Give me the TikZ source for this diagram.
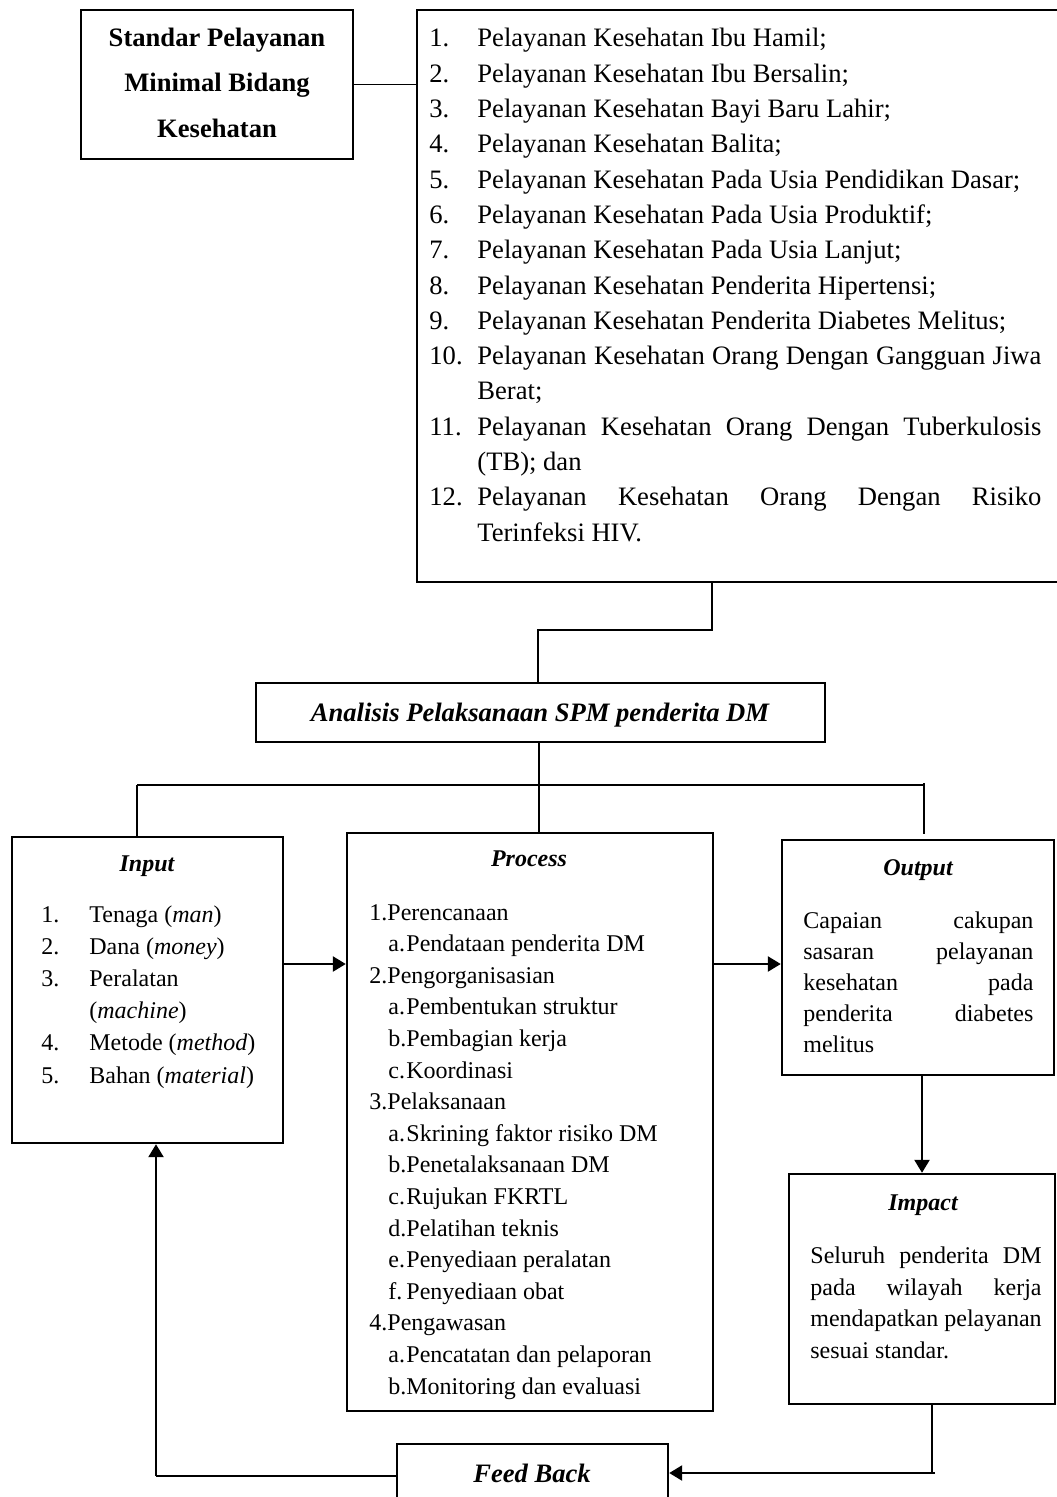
\documentclass[tikz,border=0pt]{standalone}
\usepackage{fontspec}
\setmainfont{Liberation Serif}
\usetikzlibrary{arrows.meta,fit}
\begin{document}
\begin{tikzpicture}[x=0.5pt,y=-0.5pt,
  box/.style={draw,line width=1.2pt,inner sep=0pt},
  thin/.style={line width=0.6pt},
  arr/.style={line width=1.2pt,-{Triangle[length=6.5pt,width=7.5pt]}},
  tx/.style={anchor=base west,inner sep=0pt,font=\fontsize{13.3}{16}\selectfont},
  sx/.style={anchor=base west,inner sep=0pt,font=\fontsize{12}{14}\selectfont},
  tt/.style={anchor=base,inner sep=0pt,font=\fontsize{13.3}{16}\selectfont\bfseries},
  st/.style={anchor=base,inner sep=0pt,font=\fontsize{12}{14}\selectfont\bfseries\itshape}]
\useasboundingbox[fill=white] (0,0) rectangle (1056,1497);

% ---------- boxes ----------
\node[box,fit={(81,10) (353,159)}] (spm) {};
\node[box,fit={(417,10) (1062,582)}] (list) {};
\node[box,fit={(256,683) (825,742)}] (ana) {};
\node[box,fit={(12,837) (283,1143)}] (inp) {};
\node[box,fit={(347,833) (713,1411)}] (proc) {};
\node[box,fit={(782,840) (1054,1075)}] (outp) {};
\node[box,fit={(789,1174) (1055,1404)}] (imp) {};
\node[box,fit={(397,1444) (668,1515)}] (fb) {};

% ---------- SPM text ----------
\node[tt] (spm1) at (217,47) {Standar Pelayanan};
\node[tt] (spm2) at (217,92) {Minimal Bidang};
\node[tt] (spm3) at (217,138) {Kesehatan};

% ---------- list ----------
\foreach \n/\t [count=\i from 0] in {
  1./{Pelayanan Kesehatan Ibu Hamil;},
  2./{Pelayanan Kesehatan Ibu Bersalin;},
  3./{Pelayanan Kesehatan Bayi Baru Lahir;},
  4./{Pelayanan Kesehatan Balita;},
  5./{Pelayanan Kesehatan Pada Usia Pendidikan Dasar;},
  6./{Pelayanan Kesehatan Pada Usia Produktif;},
  7./{Pelayanan Kesehatan Pada Usia Lanjut;},
  8./{Pelayanan Kesehatan Penderita Hipertensi;},
  9./{Pelayanan Kesehatan Penderita Diabetes Melitus;}}{
  \node[tx] (ln\i) at (429,{47+35.3*\i}) {\n};
  \node[tx] (lt\i) at (477,{47+35.3*\i}) {\t};
}
\node[tx] (ln9) at (429,{47+35.3*9}) {10.};
\node[tx] (lt9) at (477,{47+35.3*9}) {\makebox[282pt][s]{Pelayanan Kesehatan Orang Dengan Gangguan Jiwa}};
\node[tx] (lt10) at (477,{47+35.3*10}) {Berat;};
\node[tx] (ln11) at (429,{47+35.3*11}) {11.};
\node[tx] (lt11) at (477,{47+35.3*11}) {\makebox[282pt][s]{Pelayanan Kesehatan Orang Dengan Tuberkulosis}};
\node[tx] (lt12) at (477,{47+35.3*12}) {(TB); dan};
\node[tx] (ln13) at (429,{47+35.3*13}) {12.};
\node[tx] (lt13) at (477,{47+35.3*13}) {\makebox[282pt][s]{Pelayanan Kesehatan Orang Dengan Risiko}};
\node[tx] (lt14) at (477,{47+35.3*14}) {Terinfeksi HIV.};

% ---------- Analisis ----------
\node[anchor=base,inner sep=0pt,font=\fontsize{13.3}{16}\selectfont\bfseries\itshape] (anat) at (540,721) {Analisis Pelaksanaan SPM penderita DM};

% ---------- Input ----------
\node[st] (inpt) at (147,871) {Input};
\foreach \n/\t [count=\i from 0] in {
  1./{Tenaga (\textit{man})},
  2./{Dana (\textit{money})},
  3./{Peralatan},
  {}/{(\textit{machine})},
  4./{Metode (\textit{method})},
  5./{Bahan (\textit{material})}}{
  \node[sx] (in\i) at (41,{922+32.2*\i}) {\n};
  \node[sx] (it\i) at (89,{922+32.2*\i}) {\t};
}

% ---------- Process ----------
\node[st] (proct) at (529,866) {Process};
\node[sx] (p0) at (369,920) {1.Perencanaan};
\node[sx] (p2) at (369,{920+31.6*2}) {2.Pengorganisasian};
\node[sx] (p6) at (369,{920+31.6*6}) {3.Pelaksanaan};
\node[sx] (p13) at (369,{920+31.6*13}) {4.Pengawasan};
\foreach \l/\t/\r in {a./{Pendataan penderita DM}/1,
  a./{Pembentukan struktur}/3, b./{Pembagian kerja}/4, c./Koordinasi/5,
  a./{Skrining faktor risiko DM}/7, b./{Penetalaksanaan DM}/8, c./{Rujukan FKRTL}/9,
  d./{Pelatihan teknis}/10, e./{Penyediaan peralatan}/11, f./{Penyediaan obat}/12,
  a./{Pencatatan dan pelaporan}/14, b./{Monitoring dan evaluasi}/15}{
  \node[sx] (pl\r) at (388,{920+31.6*\r}) {\l};
  \node[sx] (pt\r) at (406,{920+31.6*\r}) {\t};
}

% ---------- Output ----------
\node[st] (outt) at (918,875) {Output};
\node[sx] (o0) at (803,928) {\makebox[115pt][s]{Capaian cakupan}};
\node[sx] (o1) at (803,959) {\makebox[115pt][s]{sasaran pelayanan}};
\node[sx] (o2) at (803,990) {\makebox[115pt][s]{kesehatan pada}};
\node[sx] (o3) at (803,1021) {\makebox[115pt][s]{penderita diabetes}};
\node[sx] (o4) at (803,1052) {melitus};

% ---------- Impact ----------
\node[st] (impt) at (923,1210) {Impact};
\node[sx] (m0) at (810,1263) {\makebox[115.6pt][s]{Seluruh penderita DM}};
\node[sx] (m1) at (810,1295) {\makebox[115.6pt][s]{pada wilayah kerja}};
\node[sx] (m2) at (810,1326) {mendapatkan pelayanan};
\node[sx] (m3) at (810,1358) {sesuai standar.};

% ---------- Feed Back ----------
\node[anchor=base,inner sep=0pt,font=\fontsize{13.3}{16}\selectfont\bfseries\itshape] (fbt) at (532,1482) {Feed Back};

% ---------- connectors ----------
\draw[thin] (spm.east) -- (spm.east -| list.west);
\coordinate (k1) at (712,630);
\coordinate (k2) at (538,630);
\draw[thin] (k1 |- list.south) -- (k1) -- (k2) -- (k2 |- ana.north);
\coordinate (bL) at (137,785);
\coordinate (bM) at (539,785);
\coordinate (bR) at (924,785);
\coordinate (bRe) at (924,834);
\draw[thin] (ana.south -| bM) -- (bM);
\draw[thin] (bL) -- (bR);
\draw[thin] (bL) -- (bL |- inp.north);
\draw[thin] (bM) -- (bM |- proc.north);
\draw[thin] (924,783) -- (bRe);

\coordinate (a1) at (0,964);
\draw[arr] (a1 -| inp.east) -- (a1 -| proc.west);
\draw[arr] (a1 -| proc.east) -- (a1 -| outp.west);
\coordinate (a2) at (922,0);
\draw[arr] (a2 |- outp.south) -- (a2 |- imp.north);

\coordinate (f1) at (932,1473);
\draw[thin] (f1 |- imp.south) -- (f1);
\draw[arr] (935,1473) -- (f1 -| fb.east);
\coordinate (f2) at (156,1476);
\draw[thin] (f2 -| fb.west) -- (f2);
\draw[arr] (f2) -- (f2 |- inp.south);
\end{tikzpicture}
\end{document}
